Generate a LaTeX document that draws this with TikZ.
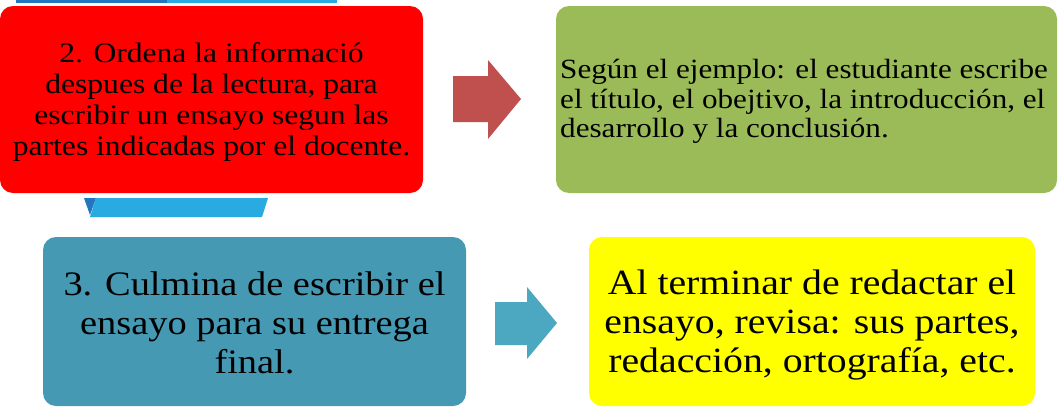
\documentclass[tikz,border=0pt]{standalone}
\usepackage{fontspec}
\setmainfont[FakeStretch=1.12]{Liberation Serif}
\definecolor{boxred}{HTML}{FF0000}
\definecolor{boxgreen}{HTML}{9BBB59}
\definecolor{arrowred}{HTML}{C0504D}
\definecolor{boxteal}{HTML}{4599B3}
\definecolor{arrowteal}{HTML}{4BA8C0}
\definecolor{boxyellow}{HTML}{FFFF00}
\definecolor{darkblue}{HTML}{2176BD}
\definecolor{lightblue}{HTML}{29ABE2}
\begin{document}
\begin{tikzpicture}[x=1pt,y=-1pt,
  box/.style={rounded corners=13pt, inner sep=0pt, text=black},
  txt/.style={inner sep=0pt, text=black}]
\useasboundingbox (0,0) rectangle (1060,407);
% top bar remnant
\fill[darkblue] (16,0) rectangle (167,3);
\fill[lightblue] (167,0) rectangle (337,3);
% red box
\node[box, fill=boxred, minimum width=423pt, minimum height=187pt] (s2) at (211.5,99.5) {};
\node[txt, align=center, font=\fontsize{28.2}{31}\selectfont] (s2t) at (211.5,102)
  {2. Ordena la informació\\ despues de la lectura, para\\ escribir un ensayo segun las\\ partes indicadas por el docente.};
% trapezoid under red box
\fill[lightblue] (96,198) -- (268,198) -- (262,217) -- (90,217) -- cycle;
\fill[darkblue] (84,198) -- (96,198) -- (90,215) -- cycle;
% red arrow
\fill[arrowred] (453,76) -- (488,76) -- (488,60) -- (521,99) -- (488,139) -- (488,122) -- (453,122) -- cycle;
% green box
\node[box, fill=boxgreen, minimum width=501pt, minimum height=187pt] (g) at (806.5,99.5) {};
\node[txt, align=left, font=\fontsize{27.8}{29.5}\selectfont, anchor=west] (gt) at (560,101.5)
  {Según el ejemplo: el estudiante escribe\\ el título, el obejtivo, la introducción, el\\ desarrollo y la conclusión.};
% teal box
\node[box, fill=boxteal, minimum width=423pt, minimum height=169pt] (s3) at (254.5,321.5) {};
\node[txt, align=center, font=\fontsize{34.3}{39}\selectfont] (s3t) at (254.5,322.5)
  {3. Culmina de escribir el\\ ensayo para su entrega\\ final.};
% teal arrow
\fill[arrowteal] (495,302) -- (527,302) -- (527,287) -- (557,323) -- (527,359) -- (527,345) -- (495,345) -- cycle;
% yellow box
\node[box, fill=boxyellow, minimum width=446pt, minimum height=169pt] (y) at (812,321.5) {};
\node[txt, align=center, font=\fontsize{35.5}{39}\selectfont] (yt) at (812,325.5)
  {Al terminar de redactar el\\ ensayo, revisa: sus partes,\\ redacción, ortografía, etc.};
\end{tikzpicture}
\end{document}
